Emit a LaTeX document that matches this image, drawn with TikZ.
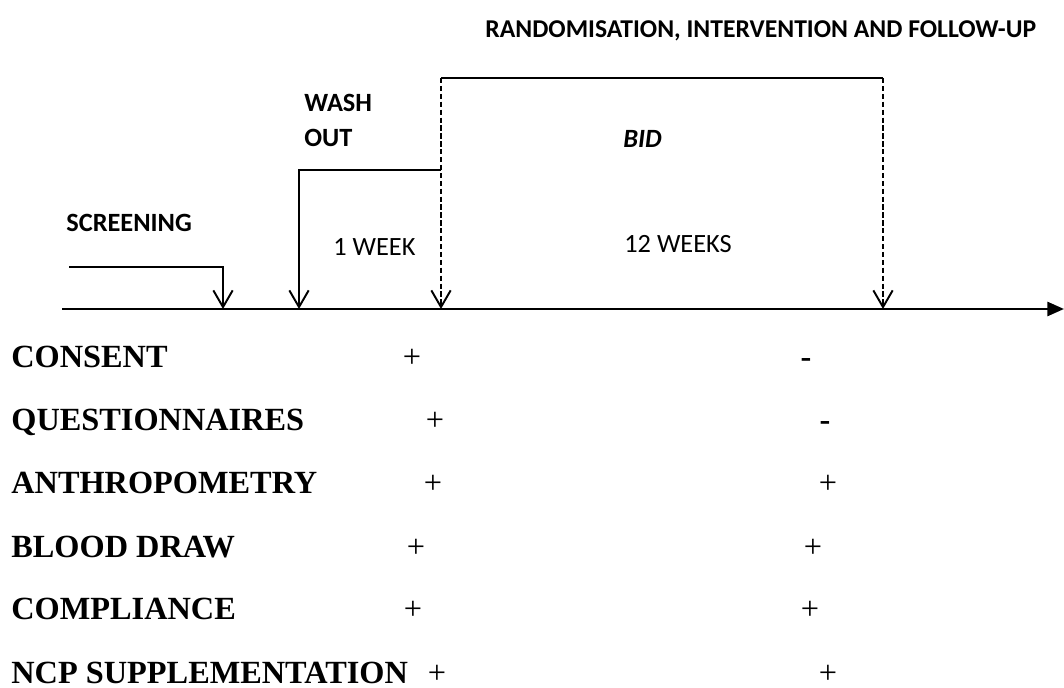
\documentclass[tikz,border=0pt]{standalone}
\usepackage{fontspec}
\setmainfont{Liberation Serif}
\newfontfamily\calibri{Carlito}
\usetikzlibrary{arrows.meta,positioning}
\tikzstyle{phase} = [font=\calibri\bfseries\fontsize{15}{17}\selectfont, inner sep=0pt, anchor=base west]
\tikzstyle{span} = [font=\calibri\fontsize{15}{17}\selectfont, inner sep=0pt, anchor=base west]
\tikzstyle{item} = [font=\bfseries\fontsize{18.4}{20}\selectfont, inner sep=0pt, anchor=base west]
\tikzstyle{sign} = [font=\fontsize{18.4}{20}\selectfont, inner sep=0pt, anchor=base]
\tikzstyle{line} = [draw, line width=1.1pt, -{Straight Barb[length=9.5pt,width=11pt]}]
\tikzstyle{dline} = [line, dash pattern=on 3pt off 1.5pt]

\begin{document}
\begin{tikzpicture}[x=0.02cm, y=-0.02cm]
    \useasboundingbox (0,0) rectangle (1064,688);
    % Place points on the time line
    \coordinate (t0) at (62,309);
    \coordinate (t1) at (1064,309);
    \coordinate (scr) at (223,309);
    \coordinate (wash) at (299,309);
    \coordinate (rand) at (441,309);
    \coordinate (end) at (883,309);
    \coordinate (scrin) at (69,267);
    \coordinate (washin) at (441,170);
    \coordinate (top) at (441,78);
    % Place labels
    \node [phase, font=\calibri\bfseries\fontsize{14.6}{16}\selectfont] (title) at (485,38) {RANDOMISATION, INTERVENTION AND FOLLOW-UP};
    \node [phase] (wash1) at (304,112) {WASH};
    \node [phase] (wash2) at (304,147) {OUT};
    \node [phase, font=\calibri\bfseries\itshape\fontsize{15}{17}\selectfont] (bid) at (623,148) {BID};
    \node [phase] (screen) at (66,232) {SCREENING};
    \node [span] (week1) at (333,256) {1 WEEK};
    \node [span] (week12) at (624,253) {12 WEEKS};
    % Draw edges
    \draw [line width=1.5pt, -{Triangle[length=9.5pt,width=8pt]}] (t0) -- (t1);
    \path [line] (scrin) -| (scr);
    \path [line] (washin) -| (wash);
    \draw [line width=1.1pt] (top) -- (end |- top);
    \path [dline] (top) -- (rand);
    \path [dline] (end |- top) -- (end);
    % Place rows
    \node [item] (consent) at (11,368) {CONSENT};
    \node [sign] (consenta) at (412,368) {+};
    \node [sign, font=\bfseries\fontsize{18.4}{20}\selectfont] (consentb) at (806,368) {-};
    \node [item] (quest) at (11,431) {QUESTIONNAIRES};
    \node [sign] (questa) at (435,431) {+};
    \node [sign, font=\bfseries\fontsize{18.4}{20}\selectfont] (questb) at (825,431) {-};
    \node [item] (anthro) at (11,494) {ANTHROPOMETRY};
    \node [sign] (anthroa) at (433,494) {+};
    \node [sign] (anthrob) at (828,494) {+};
    \node [item] (blood) at (11,557) {BLOOD DRAW};
    \node [sign] (blooda) at (416,557) {+};
    \node [sign] (bloodb) at (813,557) {+};
    \node [item] (compl) at (11,619) {COMPLIANCE};
    \node [sign] (compla) at (413,619) {+};
    \node [sign] (complb) at (810,619) {+};
    \node [item] (ncp) at (11,683) {NCP SUPPLEMENTATION};
    \node [sign] (ncpa) at (437,683) {+};
    \node [sign] (ncpb) at (828,683) {+};
\end{tikzpicture}
\end{document}
